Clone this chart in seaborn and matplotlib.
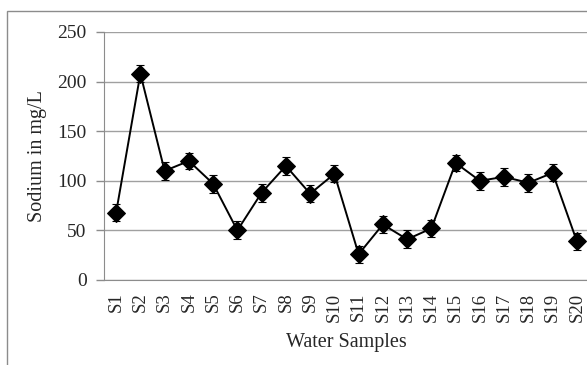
import matplotlib
matplotlib.use("Agg")
import matplotlib.pyplot as plt
import seaborn as sns
import pandas as pd
from matplotlib.patches import Rectangle

# data
samples = ["S1", "S2", "S3", "S4", "S5", "S6", "S7", "S8", "S9", "S10",
           "S11", "S12", "S13", "S14", "S15", "S16", "S17", "S18", "S19", "S20"]
sodium = [68, 208, 110, 120, 97, 50, 88, 115, 87, 107,
          26, 56, 41, 52, 118, 100, 104, 98, 108, 39]
errors = [8.6, 8.8, 8.7, 8.2, 8.8, 9.0, 8.9, 8.7, 8.5, 8.7,
          8.7, 8.7, 9.0, 8.7, 8.5, 8.8, 8.8, 8.8, 8.5, 8.5]

df = pd.DataFrame({"sample": samples, "sodium": sodium, "err": errors})

sns.set_style("white")
plt.rcParams["font.family"] = ["Liberation Serif", "DejaVu Serif"]

fig = plt.figure(figsize=(5.87, 3.65), dpi=100)
ax = fig.add_axes([104 / 587, 1 - 280 / 365, 485 / 587, 248 / 365])

# outer chart border (runs off the image on the right and bottom)
fig.patches.append(Rectangle((7 / 587, -0.5), 1.2, 0.5 + (1 - 11 / 365),
                             transform=fig.transFigure, fill=False,
                             edgecolor="#8c8c8c", linewidth=1.0))

# line with diamond markers
sns.lineplot(data=df, x="sample", y="sodium", ax=ax, color="black",
             linewidth=1.4, marker="D", markersize=9, markeredgecolor="black",
             sort=False, zorder=3)

# error bars
ax.errorbar(df["sample"], df["sodium"], yerr=df["err"], fmt="none",
            ecolor="black", elinewidth=0.8, capsize=3, capthick=0.8, zorder=2)

ax.set_xlim(-0.5, len(samples) - 0.5)
ax.set_ylim(0, 250)
ax.set_yticks([0, 50, 100, 150, 200, 250])

# gridlines and axis styling
ax.yaxis.grid(True, color="#a0a0a0", linewidth=1.0)
ax.set_axisbelow(True)
for side in ["top", "right"]:
    ax.spines[side].set_visible(False)
ax.spines["left"].set_color("#8c8c8c")
ax.spines["bottom"].set_color("#8c8c8c")

ax.tick_params(axis="y", length=5.5, width=1, color="#8c8c8c", pad=7,
               labelsize=14, left=True)
ax.tick_params(axis="x", length=0, pad=9, labelsize=13.5, labelrotation=90)

ax.set_xlabel("Water Samples", fontsize=14.5)
ax.set_ylabel("Sodium in mg/L", fontsize=14.5)
ax.xaxis.set_label_coords(0.5, -0.213)
ax.yaxis.set_label_coords(-0.118, 0.5)

fig.savefig("out.png", dpi=100)
